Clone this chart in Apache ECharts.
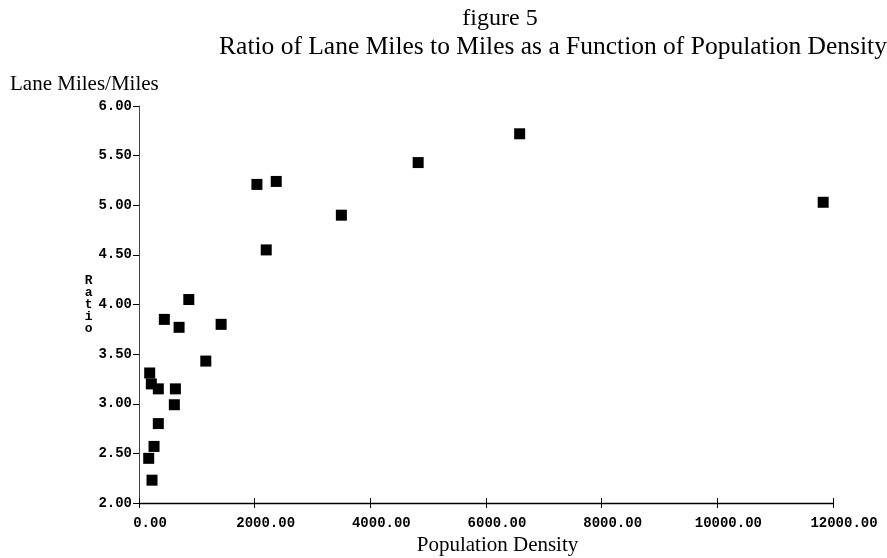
<!DOCTYPE html>
<html>
<head>
<meta charset="utf-8">
<script src="https://cdn.jsdelivr.net/npm/echarts@6/dist/echarts.min.js"></script>
<style>
html,body{margin:0;padding:0;background:#fff;}
#chart{width:887px;height:558px;}
</style>
</head>
<body>
<div id="chart"></div>
<script>
// Population density (x) and lane miles / miles ratio (y)
const density = [185, 213, 334, 629, 611, 334, 260, 168, 225, 438, 693, 861, 1420, 1155, 2039, 2373, 2200, 3499, 4827, 6582, 11830];
const ratio   = [3.31, 3.20, 3.15, 3.15, 2.99, 2.80, 2.57, 2.45, 2.23, 3.85, 3.77, 4.05, 3.80, 3.43, 5.21, 5.24, 4.55, 4.90, 5.43, 5.72, 5.03];
const titleLines = ['figure 5', 'Ratio of Lane Miles to Miles as a Function of Population Density'];
const yUnitLabel = 'Lane Miles/Miles';
const yAxisName = 'Ratio';
const xAxisName = 'Population Density';

const points = density.map((d, i) => [d, ratio[i]]);
const mono = '"Liberation Mono", "Courier New", monospace';
const serif = '"Liberation Serif", "Times New Roman", serif';

const chart = echarts.init(document.getElementById('chart'));
chart.setOption({
  backgroundColor: '#fff',
  animation: false,
  graphic: [
    { type: 'text', x: 500, y: 19, style: { text: titleLines[0], font: '24px ' + serif, fill: '#000', textAlign: 'center', textVerticalAlign: 'middle' } },
    { type: 'text', x: 553, y: 47, style: { text: titleLines[1], font: '25.5px ' + serif, fill: '#000', textAlign: 'center', textVerticalAlign: 'middle' } },
    { type: 'text', x: 10, y: 84, style: { text: yUnitLabel, font: '21px ' + serif, fill: '#000', textAlign: 'left', textVerticalAlign: 'middle' } }
  ],
  grid: { left: 139, right: 54, top: 106, bottom: 55, containLabel: false, outerBoundsMode: 'none' },
  xAxis: [{
    type: 'value', min: 0, max: 12000, interval: 2000,
    name: xAxisName, nameLocation: 'middle', nameGap: 32,
    nameTextStyle: { fontFamily: serif, fontSize: 21, color: '#000', padding: [0, 0, 0, 23] },
    axisLine: { show: true, lineStyle: { color: '#000', width: 1.4 } },
    axisTick: { show: true, length: 5, lineStyle: { color: '#000' } },
    axisLabel: { formatter: v => v.toFixed(2), fontFamily: mono, fontWeight: 'bold', fontSize: 14, color: '#000', margin: 13, padding: [0, 0, 0, 22] },
    splitLine: { show: false }
  }, {
    type: 'value', min: 0, max: 12000, interval: 2000, position: 'bottom',
    axisLine: { show: false },
    axisTick: { show: true, inside: true, length: 5, lineStyle: { color: '#000' } },
    axisLabel: { show: false },
    splitLine: { show: false }
  }],
  yAxis: {
    type: 'value', min: 2, max: 6, interval: 0.5,
    name: yAxisName.split('').join('\n'), nameLocation: 'middle', nameRotate: 0, nameGap: 45,
    nameTextStyle: { fontFamily: mono, fontWeight: 'bold', fontSize: 13, lineHeight: 12, color: '#000', align: 'center', verticalAlign: 'middle', padding: [12, 0, 0, 0] },
    axisLine: { show: true, lineStyle: { color: '#444', width: 1 } },
    axisTick: { show: true, length: 6, lineStyle: { color: '#000' } },
    axisLabel: { formatter: v => v.toFixed(2), fontFamily: mono, fontWeight: 'bold', fontSize: 14, color: '#000', margin: 7 },
    splitLine: { show: false }
  },
  series: [{
    type: 'scatter', xAxisIndex: 0, data: points, symbol: 'rect', symbolSize: 11,
    clip: false,
    itemStyle: { color: '#000', opacity: 1 }
  }]
});
</script>
</body>
</html>
